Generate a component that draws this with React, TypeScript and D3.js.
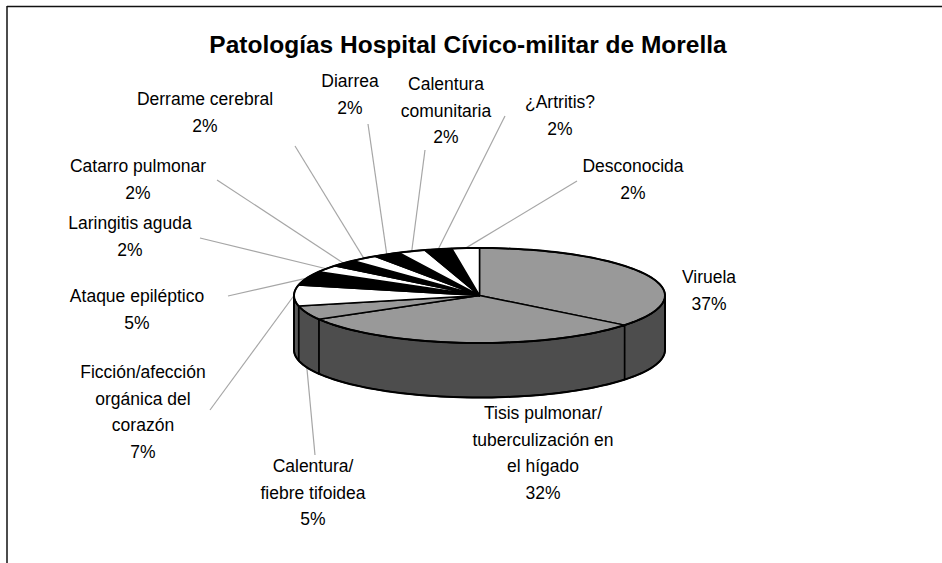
import React from "react";
import * as d3 from "d3";

// ---- data ----
const categories: string[] = [
  "Viruela",
  "Tisis pulmonar/\ntuberculización en\nel hígado",
  "Calentura/\nfiebre tifoidea",
  "Ficción/afección\norgánica del\ncorazón",
  "Ataque epiléptico",
  "Laringitis aguda",
  "Catarro pulmonar",
  "Derrame cerebral",
  "Diarrea",
  "Calentura\ncomunitaria",
  "¿Artritis?",
  "Desconocida",
];
const values: number[] = [15, 13, 2, 3, 2, 1, 1, 1, 1, 1, 1, 1];
const percentLabels: string[] = ["37%", "32%", "5%", "7%", "5%", "2%", "2%", "2%", "2%", "2%", "2%", "2%"];
const fillKinds: string[] = ["gray", "gray", "gray", "white", "black", "white", "black", "white", "black", "white", "black", "white"];
const title = "Patologías Hospital Cívico-militar de Morella";

// ---- layout ----
const W = 942;
const H = 563;
const cx = 479.5;
const cy = 295.5;
const rx = 185.5;
const ry = 47.5;
const depth = 54.5;
const lineH = 26.5;
const fontSize = 17.5;

// label center x, first-line baseline y, leader start (or null)
const labelLayout: { x: number; y: number; lead: [number, number] | null }[] = [
  { x: 709, y: 283, lead: null },
  { x: 543, y: 419, lead: null },
  { x: 313, y: 472, lead: [315, 455] },
  { x: 143, y: 378, lead: [210, 410] },
  { x: 137, y: 302, lead: [228, 296] },
  { x: 130, y: 229, lead: [200, 238] },
  { x: 138, y: 172, lead: [217, 180] },
  { x: 205, y: 105, lead: [295, 146] },
  { x: 350, y: 87, lead: [368, 124] },
  { x: 446, y: 90, lead: [425, 150] },
  { x: 560, y: 108, lead: [505, 116] },
  { x: 633, y: 172, lead: [577, 181] },
];

const topColor: Record<string, string> = { gray: "#999999", white: "#ffffff", black: "#000000" };
const sideColor: Record<string, string> = { gray: "#4d4d4d", white: "#595959", black: "#1a1a1a" };

const P = (t: number, dy = 0): [number, number] => [cx + rx * Math.sin(t), cy - ry * Math.cos(t) + dy];

const arcPts = (a: number, b: number, dy = 0): [number, number][] => {
  const n = Math.max(2, Math.ceil(((b - a) / Math.PI) * 90));
  return d3.range(n + 1).map((i) => P(a + ((b - a) * i) / n, dy));
};

const line = d3.line<[number, number]>();

export default function App() {
  const pie = d3.pie<number>().sort(null).value((d) => d)(values);

  const sides = pie
    .map((s, i) => {
      const a = Math.max(s.startAngle, Math.PI / 2);
      const b = Math.min(s.endAngle, (3 * Math.PI) / 2);
      if (b <= a) return null;
      const pts = [...arcPts(a, b), ...arcPts(a, b, depth).reverse()];
      return { i, d: line(pts) + "Z" };
    })
    .filter(Boolean) as { i: number; d: string }[];

  const tops = pie.map((s, i) => {
    const pts: [number, number][] = [[cx, cy], ...arcPts(s.startAngle, s.endAngle)];
    return { i, d: line(pts) + "Z" };
  });

  const outline = line(arcPts(0, 2 * Math.PI)) + "Z";
  const frontOutline = line([...arcPts(Math.PI / 2, (3 * Math.PI) / 2, depth)]);

  const leaders = pie.map((s, i) => {
    const L = labelLayout[i].lead;
    if (!L) return null;
    const mid = (s.startAngle + s.endAngle) / 2;
    const front = mid > Math.PI / 2 && mid < (3 * Math.PI) / 2;
    const end = P(mid, front ? depth : 0);
    return { i, x1: L[0], y1: L[1], x2: end[0], y2: end[1] };
  });

  return (
    <svg
      width={W}
      height={H}
      style={{ position: "absolute", left: 0, top: 0, background: "#fff" }}
      fontFamily="'Liberation Sans', Arial, sans-serif"
    >
      <rect x={0} y={0} width={W} height={H} fill="#fff" />
      <line x1={7} y1={6.5} x2={W} y2={6.5} stroke="#111" strokeWidth={1.5} />
      <line x1={7} y1={6} x2={7} y2={H} stroke="#111" strokeWidth={1.5} />

      <text x={468} y={53} textAnchor="middle" fontSize={24.5} fontWeight="bold" fill="#000">
        {title}
      </text>

      {leaders.map((l) =>
        l ? <line key={"l" + l.i} x1={l.x1} y1={l.y1} x2={l.x2} y2={l.y2} stroke="#a6a6a6" strokeWidth={1.2} /> : null
      )}

      {sides.map((s) => (
        <path key={"s" + s.i} d={s.d} fill={sideColor[fillKinds[s.i]]} stroke="#000" strokeWidth={1.5} strokeLinejoin="round" />
      ))}
      {tops.map((t) => (
        <path key={"t" + t.i} d={t.d} fill={topColor[fillKinds[t.i]]} stroke="#000" strokeWidth={1.5} strokeLinejoin="round" />
      ))}
      <path d={outline} fill="none" stroke="#000" strokeWidth={2} />
      <path d={frontOutline ?? ""} fill="none" stroke="#000" strokeWidth={2} />
      <line x1={cx - rx} y1={cy} x2={cx - rx} y2={cy + depth} stroke="#000" strokeWidth={2} />
      <line x1={cx + rx} y1={cy} x2={cx + rx} y2={cy + depth} stroke="#000" strokeWidth={2} />

      {categories.map((c, i) => {
        const lines = [...c.split("\n"), percentLabels[i]];
        const lay = labelLayout[i];
        return (
          <text key={"t" + i} x={lay.x} y={lay.y} textAnchor="middle" fontSize={fontSize} fill="#000">
            {lines.map((ln, j) => (
              <tspan key={j} x={lay.x} y={lay.y + j * lineH}>
                {ln}
              </tspan>
            ))}
          </text>
        );
      })}
    </svg>
  );
}
